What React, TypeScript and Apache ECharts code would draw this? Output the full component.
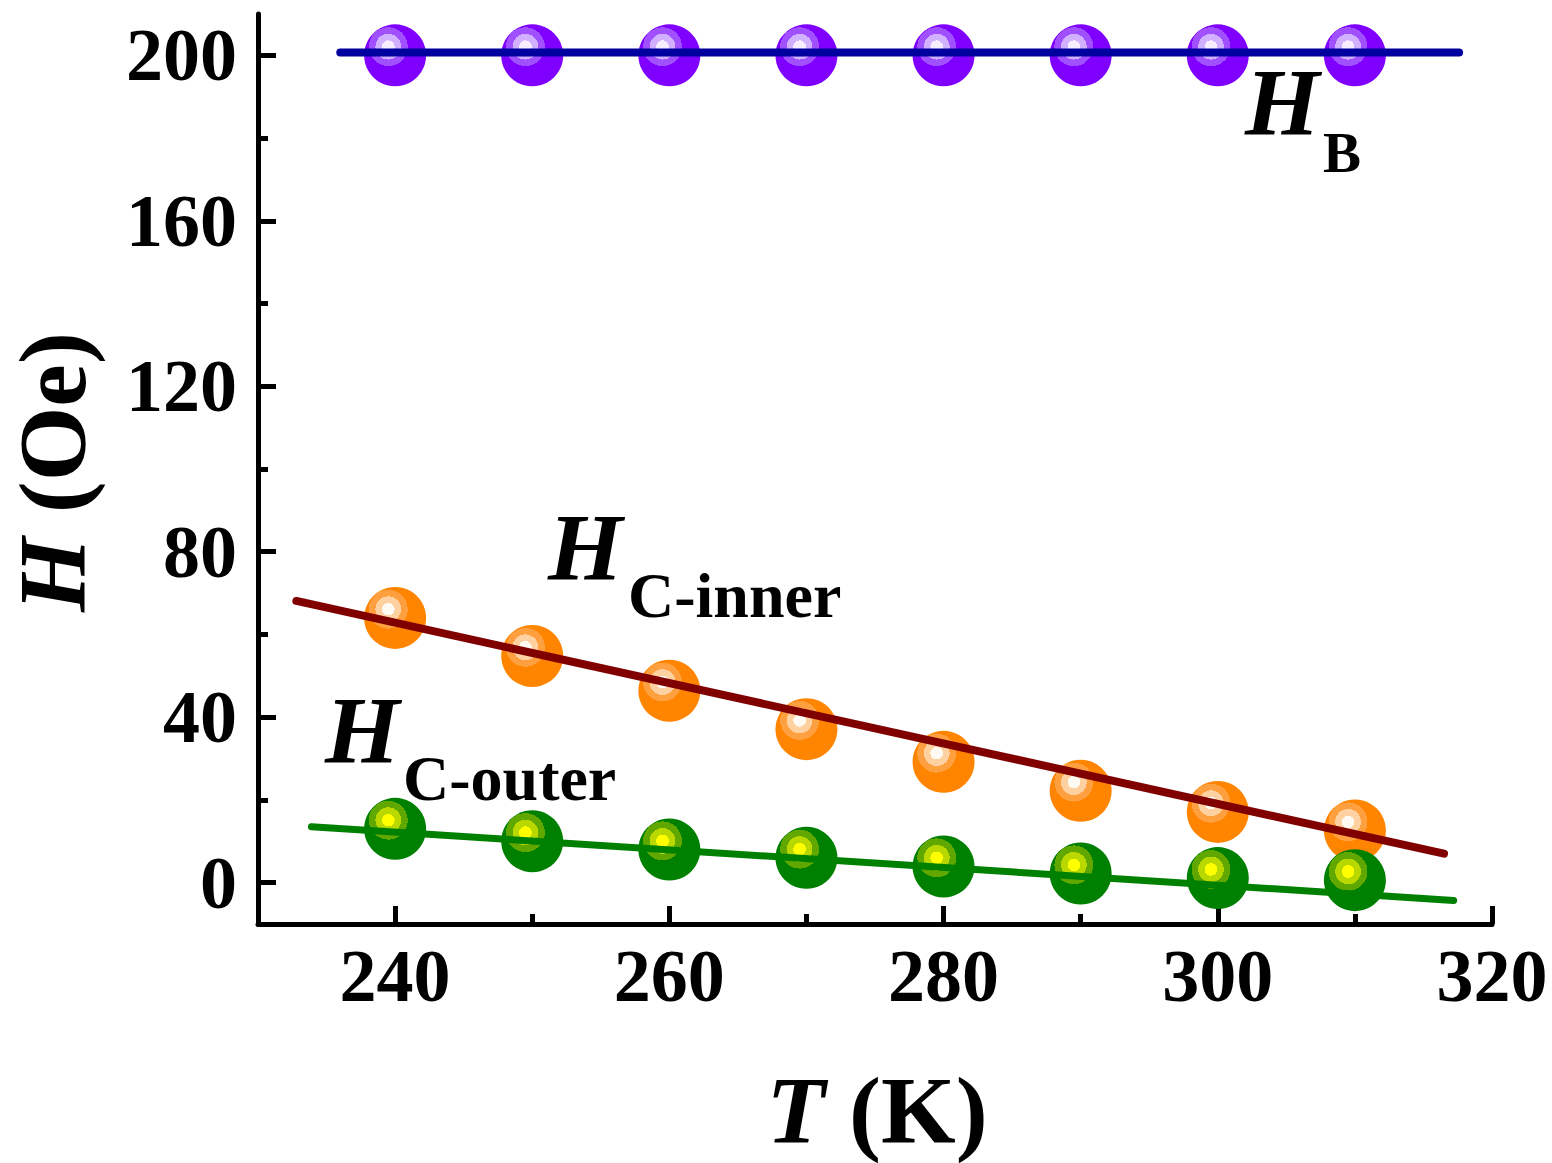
import React, { useEffect, useRef } from "react";
import * as echarts from "echarts";

const temps = [240, 250, 260, 270, 280, 290, 300, 310];
const hB = [200, 200, 200, 200, 200, 200, 200, 200];
const hCInner = [64, 54.8, 46.4, 37.1, 29.2, 22.2, 17.1, 12.6];
const hCOuter = [13.0, 10.0, 8.0, 6.0, 3.9, 2.2, 1.1, 0.6];
const fitB = [[236, 200.7], [317.6, 200.7]];
const fitInner = [[232.8, 68.1], [316.5, 7.0]];
const fitOuter = [[233.9, 13.5], [317.2, -4.3]];
const xMajor = [240, 260, 280, 300, 320];
const xMinor = [250, 270, 290, 310];
const yMajor = [0, 40, 80, 120, 160, 200];
const yMinor = [20, 60, 100, 140, 180];

const FONT = "Liberation Serif";

function ball(base: string, c1: string, c2: string, c3: string) {
  return new echarts.graphic.RadialGradient(0.39, 0.36, 0.46, [
    { offset: 0, color: c3 },
    { offset: 0.22, color: c3 },
    { offset: 0.22, color: c2 },
    { offset: 0.45, color: c2 },
    { offset: 0.45, color: c1 },
    { offset: 0.68, color: c1 },
    { offset: 0.68, color: base },
    { offset: 1, color: base },
  ]);
}

function pts(ys: number[]) {
  return temps.map((t, i) => [t, ys[i]]);
}

export default function App() {
  const ref = useRef<HTMLDivElement>(null);
  useEffect(() => {
    document.body.style.margin = "0";
    const chart = echarts.init(ref.current!, null, { renderer: "svg" });
    const labelStyle = { fontFamily: FONT, fontWeight: "bold", fontSize: 74, color: "#000" };
    const italicH = { fontFamily: FONT, fontWeight: "bold", fontStyle: "italic", fontSize: 96, fill: "#000" };
    const subB = { fontFamily: FONT, fontWeight: "bold", fontSize: 57, fill: "#000" };
    const subC = { fontFamily: FONT, fontWeight: "bold", fontSize: 64, fill: "#000" };
    const titleRich = {
      i: { fontFamily: FONT, fontWeight: "bold", fontStyle: "italic", fontSize: 96, lineHeight: 90, fill: "#000", color: "#000" },
      n: { fontFamily: FONT, fontWeight: "bold", fontSize: 96, lineHeight: 90, fill: "#000", color: "#000" },
    };
    const option: any = {
      animation: false,
      backgroundColor: "#fff",
      grid: { left: 258, right: 60, top: 14, bottom: 239 },
      xAxis: [
        {
          type: "value",
          min: 230,
          max: 320,
          axisLine: { show: true, onZero: false, lineStyle: { color: "#000", width: 5 } },
          axisTick: { show: true, inside: true, length: 18, customValues: xMajor, lineStyle: { color: "#000", width: 5 } },
          axisLabel: { show: true, customValues: xMajor, margin: 15, ...labelStyle },
          splitLine: { show: false },
        },
        {
          type: "value",
          min: 230,
          max: 320,
          position: "bottom",
          axisLine: { show: false, onZero: false },
          axisTick: { show: true, inside: true, length: 10, customValues: xMinor, lineStyle: { color: "#000", width: 5 } },
          axisLabel: { show: false },
          splitLine: { show: false },
        },
      ],
      yAxis: [
        {
          type: "value",
          min: -10,
          max: 210,
          axisLine: { show: true, onZero: false, lineStyle: { color: "#000", width: 5 } },
          axisTick: { show: true, inside: true, length: 18, customValues: yMajor, lineStyle: { color: "#000", width: 5 } },
          axisLabel: { show: true, customValues: yMajor, margin: 21, ...labelStyle },
          splitLine: { show: false },
        },
        {
          type: "value",
          min: -10,
          max: 210,
          position: "left",
          axisLine: { show: false, onZero: false },
          axisTick: { show: true, inside: true, length: 10, customValues: yMinor, lineStyle: { color: "#000", width: 5 } },
          axisLabel: { show: false },
          splitLine: { show: false },
        },
      ],
      series: [
        {
          type: "scatter",
          data: pts(hB),
          symbolSize: 62,
          itemStyle: { color: ball("#7F00FF", "#A050FF", "#D0B0FF", "#F6EEFF"), opacity: 1 },
        },
        {
          type: "line",
          data: fitB,
          symbol: "none",
          lineStyle: { color: "#00009E", width: 8, cap: "round" },
        },
        {
          type: "scatter",
          data: pts(hCInner),
          symbolSize: 62,
          itemStyle: { color: ball("#FF8400", "#FFA040", "#FFD0A0", "#FFFAF2"), opacity: 1 },
        },
        {
          type: "line",
          data: fitInner,
          symbol: "none",
          lineStyle: { color: "#800000", width: 8, cap: "round" },
        },
        {
          type: "scatter",
          data: pts(hCOuter),
          symbolSize: 62,
          itemStyle: { color: ball("#008000", "#60A800", "#B8D800", "#FFFF00"), opacity: 1 },
        },
        {
          type: "line",
          data: fitOuter,
          symbol: "none",
          lineStyle: { color: "#008000", width: 7, cap: "round" },
        },
      ],
      graphic: [
        { type: "text", x: 1245, y: 102.6, style: { text: "H", ...italicH, align: "left", verticalAlign: "middle" } },
        { type: "text", x: 1323, y: 152.8, style: { text: "B", ...subB, align: "left", verticalAlign: "middle" } },
        { type: "text", x: 548, y: 547.6, style: { text: "H", ...italicH, align: "left", verticalAlign: "middle" } },
        { type: "text", x: 628, y: 595.4, style: { text: "C-inner", ...subC, align: "left", verticalAlign: "middle" } },
        { type: "text", x: 325, y: 730.6, style: { text: "H", ...italicH, align: "left", verticalAlign: "middle" } },
        { type: "text", x: 403, y: 778.4, style: { text: "C-outer", ...subC, align: "left", verticalAlign: "middle" } },
        {
          type: "text",
          x: 877,
          y: 1110,
          style: { text: "{i|T}{n| (K)}", align: "center", verticalAlign: "middle", rich: titleRich },
        },
        {
          type: "text",
          x: 52,
          y: 472,
          rotation: Math.PI / 2,
          style: { text: "{i|H}{n| (Oe)}", align: "center", verticalAlign: "middle", rich: titleRich },
        },
      ],
    };
    chart.setOption(option);
    return () => chart.dispose();
  }, []);
  return <div ref={ref} style={{ position: "absolute", left: 0, top: 0, width: 1552, height: 1163 }} />;
}
